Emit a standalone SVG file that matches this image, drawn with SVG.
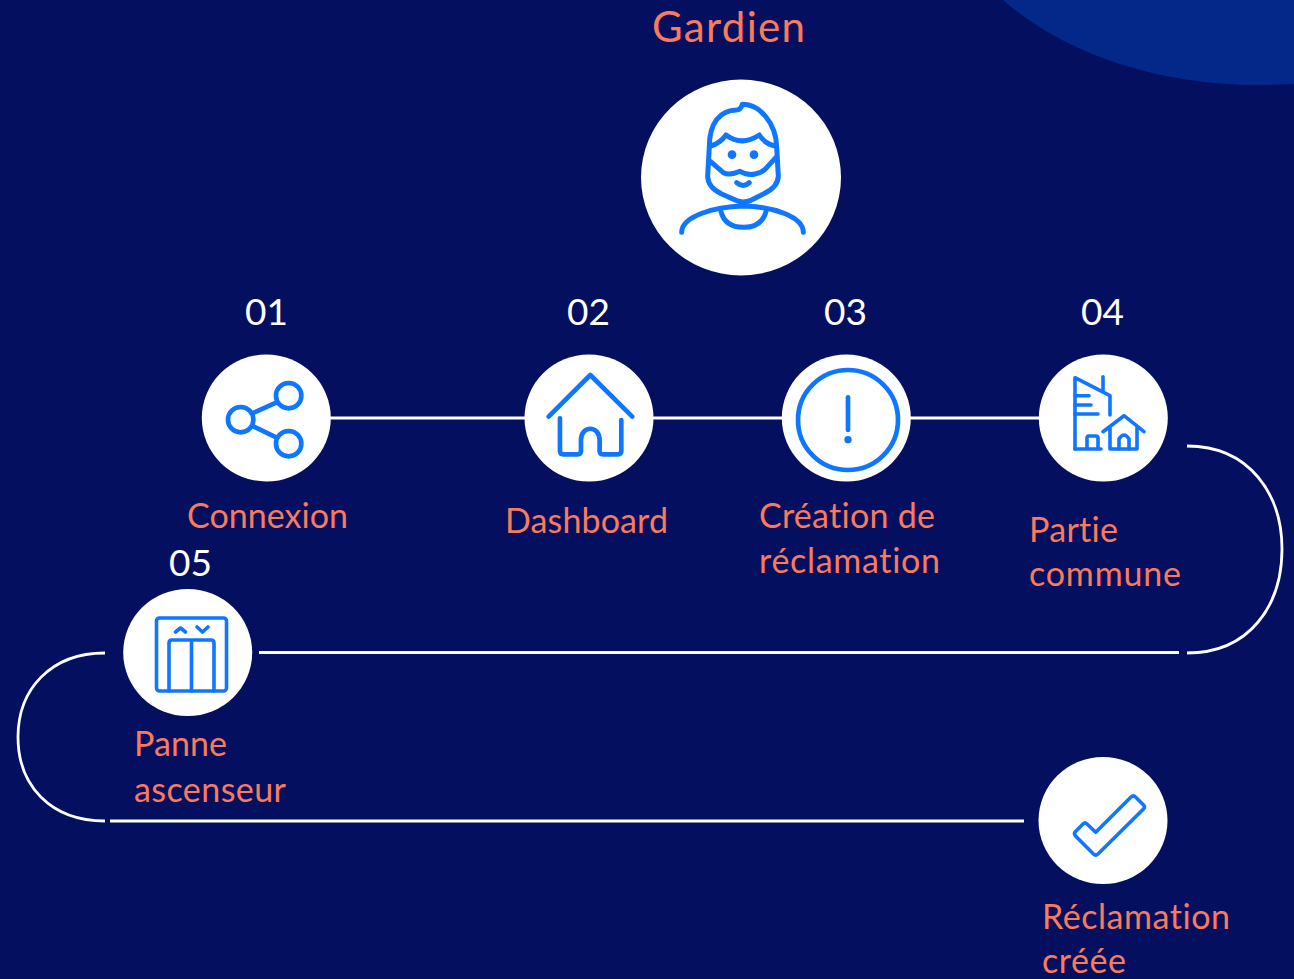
<svg xmlns="http://www.w3.org/2000/svg" width="1294" height="979" viewBox="0 0 1294 979">
<style>
.bg{fill:#040f60}
.disc{fill:#fff}
.ln{fill:none;stroke:#fff;stroke-width:2.800}
.ic{fill:none;stroke:#0f76ff;stroke-linecap:round;stroke-linejoin:round;stroke-width:14}
.ic2{fill:none;stroke:#0f76ff;stroke-linecap:round;stroke-linejoin:round;stroke-width:3.600}
.dot{fill:#0f76ff}
text{font-family:Lato,"Liberation Sans",sans-serif;font-variant-ligatures:none}
.lb{fill:#fa7a5c;font-size:34px}
.num{fill:#fff;font-size:37px}
</style>
<rect class="bg" width="1294" height="979"/>
<path d="M1003,0 C1060,50 1150,85 1260,85 L1294,84 V0 Z" fill="#04288a"/>
<g id="connectors">
<path class="ln" d="M330,418 H525"/>
<path class="ln" d="M653,418 H782"/>
<path class="ln" d="M910,418 H1040"/>
<path class="ln" d="M1187,446 C1250,446 1282,495 1282,549 C1282,605 1250,653 1187,653"/>
<path class="ln" d="M259,652.500 H1179"/>
<path class="ln" d="M105,653 C50,653 18,690 18,737 C18,785 50,821 105,821"/>
<path class="ln" d="M110,821 H1024"/>
</g>
<g id="gardien">
<text class="lb" x="652" y="42" style="font-size:42px" textLength="153">Gardien</text>
<ellipse class="disc" cx="741" cy="177.500" rx="100" ry="98"/>
<g transform="translate(640 70) scale(.3333)">
<path class="ic" style="stroke-width:15" d="M307,103 C360,103 408,160 410,230 L415,318 C415,345 395,360 370,372 L330,392 Q310,400 290,392 L245,372 C220,360 203,345 203,318 L208,230 C208,160 240,120 290,120 Q302,120 307,103 Z"/>
<path class="ic" style="stroke-width:15" d="M212,228 Q240,220 258,195 Q305,230 358,195 Q375,222 405,228"/>
<path class="ic" style="stroke-width:15" d="M212,275 L250,308 Q270,318 300,304 Q325,318 345,312 Q362,310 375,298 L408,262"/>
<circle class="dot" cx="276" cy="254" r="13"/>
<circle class="dot" cx="342" cy="254" r="13"/>
<path class="ic" style="stroke-width:15" d="M290,338 Q310,355 328,338"/>
<path class="ic" style="stroke-width:15" d="M125,487 C125,440 220,410 310,408 C400,410 490,440 490,487"/>
<path class="ic" style="stroke-width:15" d="M243,425 Q255,472 310,472 Q365,472 378,425"/>
</g>
</g>
<g id="step-01">
<text class="num" x="245" y="325">01</text>
<ellipse class="disc" cx="266.300" cy="418" rx="64.500" ry="63.500"/>
<g transform="translate(190 345) scale(.3333)">
<circle class="ic" cx="152" cy="224" r="38"/>
<circle class="ic" cx="296" cy="152" r="38"/>
<circle class="ic" cx="296" cy="296" r="38"/>
<path class="ic" d="M190,204 L260,172 M190,244 L260,278"/>
</g>
<text class="lb" x="187" y="528" textLength="161">Connexion</text>
</g>
<g id="step-02">
<text class="num" x="567" y="325">02</text>
<ellipse class="disc" cx="589" cy="418" rx="64.500" ry="63.500"/>
<g transform="translate(190 345) scale(.3333)">
<path class="ic" d="M1076,215 L1201,90 L1327,215"/>
<path class="ic" d="M1110,220 V318 Q1110,328 1120,328 H1163 Q1173,328 1173,318 V285 C1173,240 1229,240 1229,285 V318 Q1229,328 1239,328 H1284 Q1294,328 1294,318 V225"/>
</g>
<text class="lb" x="505" y="533" textLength="163">Dashboard</text>
</g>
<g id="step-03">
<text class="num" x="824" y="325">03</text>
<ellipse class="disc" cx="846.300" cy="418" rx="64.500" ry="63.500"/>
<g transform="translate(770 345) scale(.3333)">
<circle class="ic" cx="234" cy="225" r="150"/>
<path class="ic" d="M234,157 V255"/>
<circle class="dot" cx="234" cy="284" r="11"/>
</g>
<text class="lb" x="759" y="528" textLength="176">Création de</text>
<text class="lb" x="759" y="573" textLength="181">réclamation</text>
</g>
<g id="step-04">
<text class="num" x="1081" y="325">04</text>
<ellipse class="disc" cx="1103.300" cy="418" rx="64.500" ry="63.500"/>
<g transform="translate(1030 365)">
<path class="ic2" d="M45,84 V12.700 L80,30.700 V50 M73,11.700 V26"/>
<path class="ic2" d="M45,30.700 H59 M45,40 H61 M45,49 H68"/>
<path class="ic2" d="M45,84 H71 M57,84 V73 Q57,71 59,71 H66 Q68,71 68,73 V84"/>
<path class="ic2" d="M73,66.700 L94,50.700 L114,66.700 M80,62 V84 H107 V62"/>
<path class="ic2" d="M89,84 V74 Q94,66 99,74 V84"/>
</g>
<text class="lb" x="1029" y="542" textLength="89">Partie</text>
<text class="lb" x="1029" y="586" textLength="152">commune</text>
</g>
<g id="step-05">
<text class="num" x="169" y="576">05</text>
<ellipse class="disc" cx="187.700" cy="652.500" rx="64.500" ry="63.500"/>
<g transform="translate(110 580)">
<rect class="ic2" x="46.500" y="38" width="70" height="73" rx="3"/>
<path class="ic2" d="M59,111 V63 Q59,60 62,60 H101 Q104,60 104,63 V111 M81.500,60 V111"/>
<path class="ic2" d="M65.500,52 L70.500,48 L75.500,52 M87,47 L92.500,52 L98,47"/>
</g>
<text class="lb" x="134" y="756" textLength="93">Panne</text>
<text class="lb" x="134" y="802" textLength="152">ascenseur</text>
</g>
<g id="step-06">
<ellipse class="disc" cx="1103" cy="820.500" rx="64.500" ry="63.500"/>
<path class="ic2" d="M1075.500,831.500 L1083,824 Q1085,822 1087,824 L1095.700,832.300 L1131,797 Q1133.300,795 1135.500,797 L1143.500,805 Q1145.500,807 1143.500,809 L1098,854 Q1095.700,856 1093.500,854 L1075.500,836 Q1073.500,833.500 1075.500,831.500 Z"/>
<text class="lb" x="1042" y="929" textLength="188">Réclamation</text>
<text class="lb" x="1042" y="973" textLength="84">créée</text>
</g>
</svg>
